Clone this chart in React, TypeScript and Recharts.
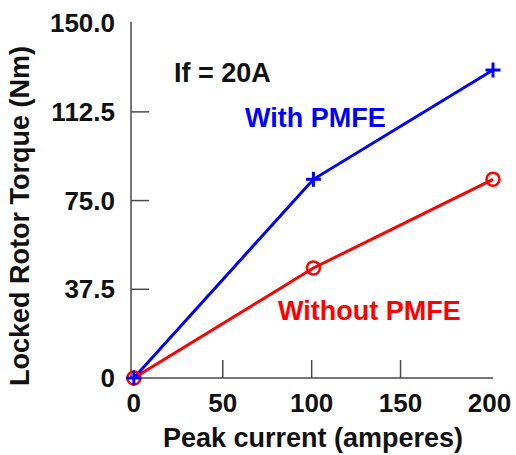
import { Line, LineChart, XAxis, YAxis } from "recharts"

const current = [0, 101, 202]
const withPmfe = [0, 84, 130.2]
const withoutPmfe = [0, 46.5, 84]
const xTicks = [0, 50, 100, 150, 200]
const yTicks = [0, 37.5, 75, 112.5, 150]

const rows = current.map((c, i) => ({ c, withPmfe: withPmfe[i], withoutPmfe: withoutPmfe[i] }))

const FONT = "'Liberation Sans', Arial, Helvetica, sans-serif"
const FRAME = "#4a4a4a"
const TICK_LEN = 18

const isEdgeX = (v: number) => v === xTicks[0] || v === xTicks[xTicks.length - 1]
const isEdgeY = (v: number) => v === yTicks[0] || v === yTicks[yTicks.length - 1]

function BottomTick({ x, y, payload }: any) {
  const v = payload.value
  return (
    <g>
      {!isEdgeX(v) && <line x1={x} y1={y} x2={x} y2={y - TICK_LEN} stroke={FRAME} strokeWidth={1.5} />}
      <text x={x} y={y + 34} textAnchor="middle" fontFamily={FONT} fontWeight="bold" fontSize={26} fill="#111">
        {v}
      </text>
    </g>
  )
}

function TopTick({ x, y, payload }: any) {
  if (isEdgeX(payload.value)) return null
  return <line x1={x} y1={y} x2={x} y2={y + TICK_LEN} stroke={FRAME} strokeWidth={1.5} />
}

function LeftTick({ x, y, payload }: any) {
  const v = payload.value
  return (
    <g>
      {!isEdgeY(v) && <line x1={x} y1={y} x2={x + TICK_LEN} y2={y} stroke={FRAME} strokeWidth={1.5} />}
      <text x={x - 16} y={y + 9} textAnchor="end" fontFamily={FONT} fontWeight="bold" fontSize={26} fill="#111">
        {v === 0 ? "0" : v.toFixed(1)}
      </text>
    </g>
  )
}

function RightTick({ x, y, payload }: any) {
  if (isEdgeY(payload.value)) return null
  return <line x1={x} y1={y} x2={x - TICK_LEN} y2={y} stroke={FRAME} strokeWidth={1.5} />
}

function CrossDot({ cx, cy }: any) {
  if (cx == null || cy == null) return null
  return (
    <g stroke="#0000ff" strokeWidth={3}>
      <line x1={cx - 7.5} y1={cy} x2={cx + 7.5} y2={cy} />
      <line x1={cx} y1={cy - 7.5} x2={cx} y2={cy + 7.5} />
    </g>
  )
}

function CircleDot({ cx, cy }: any) {
  if (cx == null || cy == null) return null
  return <circle cx={cx} cy={cy} r={6.5} fill="none" stroke="#ff0000" strokeWidth={2.5} />
}

export default function App() {
  return (
    <div style={{ position: "absolute", left: 0, top: 0, background: "#fff" }}>
      <LineChart width={516} height={455} data={rows} margin={{ top: 22, right: 23, left: 0, bottom: 0 }}>
        <XAxis
          dataKey="c"
          type="number"
          domain={[-1.6, 202]}
          ticks={xTicks}
          height={77}
          tickSize={0}
          tickMargin={0}
          tickLine={false}
          axisLine={{ stroke: FRAME, strokeWidth: 1.5 }}
          tick={<BottomTick />}
        />
        <XAxis
          xAxisId="top"
          orientation="top"
          type="number"
          domain={[-1.6, 202]}
          ticks={xTicks}
          height={0}
          tickSize={0}
          tickLine={false}
          axisLine={{ stroke: FRAME, strokeWidth: 1.5 }}
          tick={<TopTick />}
        />
        <YAxis
          type="number"
          domain={[0, 150.5]}
          ticks={yTicks}
          width={131}
          tickSize={0}
          tickMargin={0}
          tickLine={false}
          axisLine={{ stroke: FRAME, strokeWidth: 1.5 }}
          tick={<LeftTick />}
        />
        <YAxis
          yAxisId="right"
          orientation="right"
          type="number"
          domain={[0, 150.5]}
          ticks={yTicks}
          width={0}
          tickSize={0}
          tickLine={false}
          axisLine={{ stroke: FRAME, strokeWidth: 1.5 }}
          tick={<RightTick />}
        />
        <Line dataKey="withoutPmfe" stroke="#ff0000" strokeWidth={3} dot={<CircleDot />} isAnimationActive={false} />
        <Line dataKey="withPmfe" stroke="#0000ff" strokeWidth={3} dot={<CrossDot />} isAnimationActive={false} />
        <text x={174} y={82} fontFamily={FONT} fontWeight="bold" fontSize={27} fill="#111">If = 20A</text>
        <text x={245} y={127} fontFamily={FONT} fontWeight="bold" fontSize={27} fill="#0000ff">With PMFE</text>
        <text x={278} y={320} fontFamily={FONT} fontWeight="bold" fontSize={27} fill="#ff0000">Without PMFE</text>
        <text x={313} y={447} textAnchor="middle" fontFamily={FONT} fontWeight="bold" fontSize={27} fill="#111">
          Peak current (amperes)
        </text>
        <text x={29} y={216} transform="rotate(-90, 29, 216)" textAnchor="middle" fontFamily={FONT} fontWeight="bold" fontSize={27} fill="#111">
          Locked Rotor Torque (Nm)
        </text>
      </LineChart>
    </div>
  )
}
